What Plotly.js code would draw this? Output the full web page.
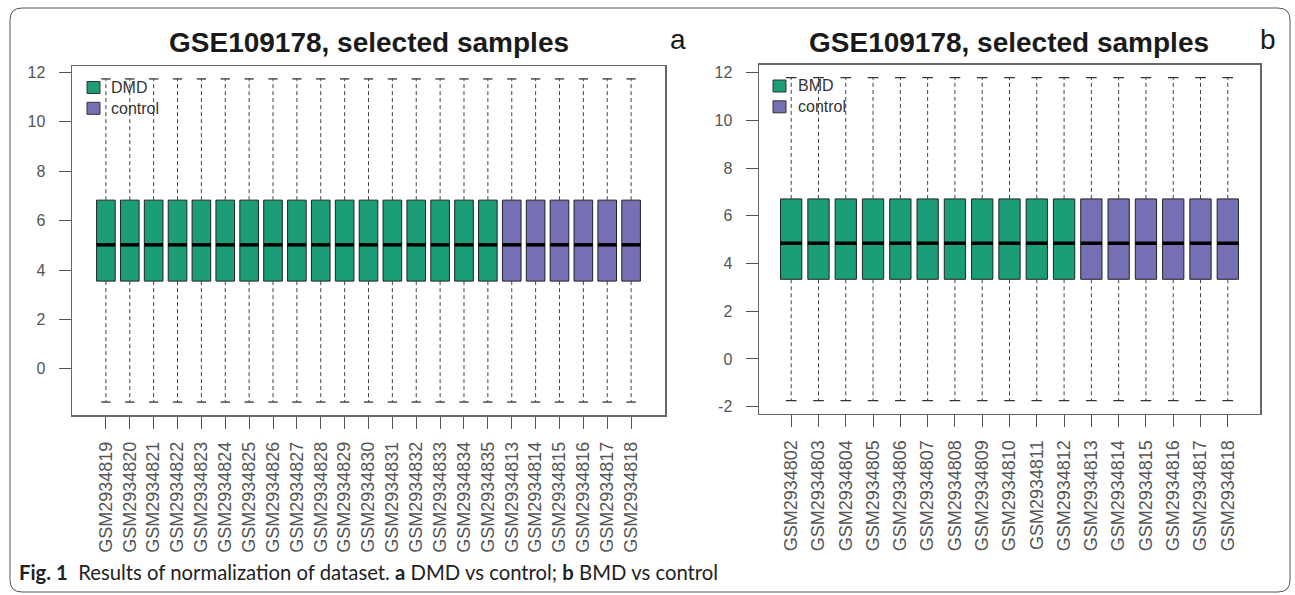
<!DOCTYPE html>
<html>
<head>
<meta charset="utf-8">
<script src="https://cdn.plot.ly/plotly-3.0.1.min.js"></script>
<style>html,body{margin:0;padding:0;background:#fff;}#chart{width:1295px;height:595px;}</style>
</head>
<body>
<div id="chart"></div>
<script>
// ---------- Panel a: DMD vs control ----------
const samplesA = ['GSM2934819','GSM2934820','GSM2934821','GSM2934822','GSM2934823','GSM2934824','GSM2934825','GSM2934826','GSM2934827','GSM2934828','GSM2934829','GSM2934830','GSM2934831','GSM2934832','GSM2934833','GSM2934834','GSM2934835','GSM2934813','GSM2934814','GSM2934815','GSM2934816','GSM2934817','GSM2934818'];
const groupsA = ['DMD','DMD','DMD','DMD','DMD','DMD','DMD','DMD','DMD','DMD','DMD','DMD','DMD','DMD','DMD','DMD','DMD','control','control','control','control','control','control'];
const lowA = [-1.35,-1.35,-1.35,-1.35,-1.35,-1.35,-1.35,-1.35,-1.35,-1.35,-1.35,-1.35,-1.35,-1.35,-1.35,-1.35,-1.35,-1.35,-1.35,-1.35,-1.35,-1.35,-1.35];
const q1A  = [3.55,3.55,3.55,3.55,3.55,3.55,3.55,3.55,3.55,3.55,3.55,3.55,3.55,3.55,3.55,3.55,3.55,3.55,3.55,3.55,3.55,3.55,3.55];
const medA = [5.02,5.02,5.02,5.02,5.02,5.02,5.02,5.02,5.02,5.02,5.02,5.02,5.02,5.02,5.02,5.02,5.02,5.02,5.02,5.02,5.02,5.02,5.02];
const q3A  = [6.83,6.83,6.83,6.83,6.83,6.83,6.83,6.83,6.83,6.83,6.83,6.83,6.83,6.83,6.83,6.83,6.83,6.83,6.83,6.83,6.83,6.83,6.83];
const highA= [11.74,11.74,11.74,11.74,11.74,11.74,11.74,11.74,11.74,11.74,11.74,11.74,11.74,11.74,11.74,11.74,11.74,11.74,11.74,11.74,11.74,11.74,11.74];
const yTicksA = [0,2,4,6,8,10,12];
const legendA = ['DMD','control'];

// ---------- Panel b: BMD vs control ----------
const samplesB = ['GSM2934802','GSM2934803','GSM2934804','GSM2934805','GSM2934806','GSM2934807','GSM2934808','GSM2934809','GSM2934810','GSM2934811','GSM2934812','GSM2934813','GSM2934814','GSM2934815','GSM2934816','GSM2934817','GSM2934818'];
const groupsB = ['BMD','BMD','BMD','BMD','BMD','BMD','BMD','BMD','BMD','BMD','BMD','control','control','control','control','control','control'];
const lowB = [-1.75,-1.75,-1.75,-1.75,-1.75,-1.75,-1.75,-1.75,-1.75,-1.75,-1.75,-1.75,-1.75,-1.75,-1.75,-1.75,-1.75];
const q1B  = [3.34,3.34,3.34,3.34,3.34,3.34,3.34,3.34,3.34,3.34,3.34,3.34,3.34,3.34,3.34,3.34,3.34];
const medB = [4.85,4.85,4.85,4.85,4.85,4.85,4.85,4.85,4.85,4.85,4.85,4.85,4.85,4.85,4.85,4.85,4.85];
const q3B  = [6.71,6.71,6.71,6.71,6.71,6.71,6.71,6.71,6.71,6.71,6.71,6.71,6.71,6.71,6.71,6.71,6.71];
const highB= [11.8,11.8,11.8,11.8,11.8,11.8,11.8,11.8,11.8,11.8,11.8,11.8,11.8,11.8,11.8,11.8,11.8];
const yTicksB = [-2,0,2,4,6,8,10,12];
const legendB = ['BMD','control'];

const titleText = 'GSE109178, selected samples';
const caption = '<b>Fig. 1</b>  Results of normalization of dataset. <b>a</b> DMD vs control; <b>b</b> BMD vs control';
const groupColors = {DMD:'#1b9e77', BMD:'#1b9e77', control:'#7570b3'};

const W = 1295, H = 595;
const BOXW = 0.78;
const FONT = 'Liberation Sans, Arial, Helvetica, sans-serif';

function panelTraces(samples, groups, lo, q1, med, q3, hi, xa, ya) {
  const pos = samples.map((s, i) => i + 1);
  const traces = [];
  const wx = [], wy = [];
  pos.forEach((p, i) => { wx.push(p, p, null, p, p, null); wy.push(q3[i], hi[i], null, q1[i], lo[i], null); });
  traces.push({type:'scatter', mode:'lines', x:wx, y:wy, xaxis:xa, yaxis:ya, showlegend:false, hoverinfo:'skip',
    line:{color:'#444', width:1, dash:'4px,3px'}});
  const sx = [], sy = [];
  pos.forEach((p, i) => { const h = BOXW/4; sx.push(p-h, p+h, null, p-h, p+h, null); sy.push(hi[i], hi[i], null, lo[i], lo[i], null); });
  traces.push({type:'scatter', mode:'lines', x:sx, y:sy, xaxis:xa, yaxis:ya, showlegend:false, hoverinfo:'skip',
    line:{color:'#333', width:1.3}});
  const uniq = [...new Set(groups)];
  uniq.forEach(g => {
    const idx = groups.map((v, i) => v === g ? i : -1).filter(i => i >= 0);
    traces.push({type:'box', name:g, xaxis:xa, yaxis:ya, showlegend:false,
      x: idx.map(i => pos[i]), q1: idx.map(i => q1[i]), median: idx.map(i => med[i]), q3: idx.map(i => q3[i]),
      lowerfence: idx.map(i => q1[i]), upperfence: idx.map(i => q3[i]),
      width: BOXW, whiskerwidth: 0, fillcolor: groupColors[g], line:{color:'#222', width:1},
      boxpoints:false, hoverinfo:'skip'});
  });
  const mx = [], my = [];
  pos.forEach((p, i) => { const h = BOXW/2; mx.push(p-h, p+h, null); my.push(med[i], med[i], null); });
  traces.push({type:'scatter', mode:'lines', x:mx, y:my, xaxis:xa, yaxis:ya, showlegend:false, hoverinfo:'skip',
    line:{color:'#000', width:3.5}});
  return traces;
}

const data = [].concat(
  panelTraces(samplesA, groupsA, lowA, q1A, medA, q3A, highA, 'x', 'y'),
  panelTraces(samplesB, groupsB, lowB, q1B, medB, q3B, highB, 'x2', 'y2')
);

function px(x){ return x / W; }
function py(y){ return 1 - y / H; }

function xAxis(n, d0, d1, anchor, labels) {
  const ext = 0.04 * n;
  return {domain:[px(d0), px(d1)], range:[0.5 - ext, n + 0.5 + ext], anchor:anchor,
    tickmode:'array', tickvals: labels.map((s, i) => i + 1), ticktext: labels, tickangle:-90,
    ticks:'outside', ticklen:12, tickwidth:1, tickcolor:'#555', ticklabelstandoff:6,
    tickfont:{family:FONT, size:18, color:'#555'},
    showline:true, mirror:true, linecolor:'#666', linewidth:1.5, showgrid:false, zeroline:false, fixedrange:true};
}
function yAxis(lo, hi, t0, t1, anchor, ticks) {
  const ext = 0.04 * (hi - lo);
  return {domain:[py(t1), py(t0)], range:[lo - ext, hi + ext], anchor:anchor,
    tickmode:'array', tickvals: ticks, ticktext: ticks.map(String),
    ticks:'outside', ticklen:12, tickwidth:1, tickcolor:'#555', ticklabelstandoff:10,
    tickfont:{family:FONT, size:16, color:'#555'},
    showline:true, mirror:true, linecolor:'#666', linewidth:1.5, showgrid:false, zeroline:false, fixedrange:true};
}

const bx0 = 10, by0 = 8, bx1 = 1290, by1 = 592, r = 12;
const borderPath = 'M' + px(bx0 + r) + ',' + py(by0) +
  ' L' + px(bx1 - r) + ',' + py(by0) +
  ' Q' + px(bx1) + ',' + py(by0) + ' ' + px(bx1) + ',' + py(by0 + r) +
  ' L' + px(bx1) + ',' + py(by1 - r) +
  ' Q' + px(bx1) + ',' + py(by1) + ' ' + px(bx1 - r) + ',' + py(by1) +
  ' L' + px(bx0 + r) + ',' + py(by1) +
  ' Q' + px(bx0) + ',' + py(by1) + ' ' + px(bx0) + ',' + py(by1 - r) +
  ' L' + px(bx0) + ',' + py(by0 + r) +
  ' Q' + px(bx0) + ',' + py(by0) + ' ' + px(bx0 + r) + ',' + py(by0) + ' Z';

const shapes = [{type:'path', xref:'paper', yref:'paper', path:borderPath, line:{color:'#555', width:1}, fillcolor:'rgba(0,0,0,0)'}];
const annotations = [
  {xref:'paper', yref:'paper', x:px(368.5), y:py(43), xanchor:'center', yanchor:'middle', showarrow:false,
    text:'<b>' + titleText + '</b>', font:{family:FONT, size:28, color:'#1a1a1a'}},
  {xref:'paper', yref:'paper', x:px(1009.5), y:py(43), xanchor:'center', yanchor:'middle', showarrow:false,
    text:'<b>' + titleText + '</b>', font:{family:FONT, size:28, color:'#1a1a1a'}},
  {xref:'paper', yref:'paper', x:px(678), y:py(40), xanchor:'center', yanchor:'middle', showarrow:false,
    text:'a', font:{family:FONT, size:28, color:'#1a1a1a'}},
  {xref:'paper', yref:'paper', x:px(1268), y:py(40), xanchor:'center', yanchor:'middle', showarrow:false,
    text:'b', font:{family:FONT, size:28, color:'#1a1a1a'}},
  {xref:'paper', yref:'paper', x:px(17), y:py(572), xanchor:'left', yanchor:'middle', showarrow:false,
    text:caption, font:{family:'Lato, Open Sans, sans-serif', size:20.3, color:'#222'}}
];

// legends: key squares + one multi-line label block, top-left inside each frame
const LEG_FONT = 16, LEG_LINE = LEG_FONT * 1.3;
function addLegend(names, sqX, txtX, y0) {
  names.forEach((nm, i) => {
    const cy = y0 + i * LEG_LINE;
    shapes.push({type:'rect', xref:'paper', yref:'paper', x0:px(sqX), x1:px(sqX + 13), y0:py(cy + 6), y1:py(cy - 6),
      fillcolor:groupColors[nm], line:{color:'#333', width:1}});
  });
  const mid = y0 + (names.length - 1) * LEG_LINE / 2;
  annotations.push({xref:'paper', yref:'paper', x:px(txtX), y:py(mid), xanchor:'left', yanchor:'middle', align:'left',
    showarrow:false, borderpad:0, text:names.join('<br>'), font:{family:FONT, size:LEG_FONT, color:'#333'}});
}
addLegend(legendA, 87, 110, 87.5);
addLegend(legendB, 773, 797, 86);

const layout = {
  width:W, height:H, margin:{l:0, r:0, t:0, b:0}, paper_bgcolor:'#fff', plot_bgcolor:'#fff',
  showlegend:false, boxmode:'overlay',
  xaxis: xAxis(samplesA.length, 72, 665, 'y', samplesA),
  yaxis: yAxis(-1.35, 11.74, 66, 415, 'x', yTicksA),
  xaxis2: xAxis(samplesB.length, 759, 1260, 'y2', samplesB),
  yaxis2: yAxis(-1.75, 11.8, 64.6, 413.6, 'x2', yTicksB),
  shapes: shapes,
  annotations: annotations
};

Plotly.newPlot('chart', data, layout, {displayModeBar:false, staticPlot:true});
</script>
</body>
</html>
